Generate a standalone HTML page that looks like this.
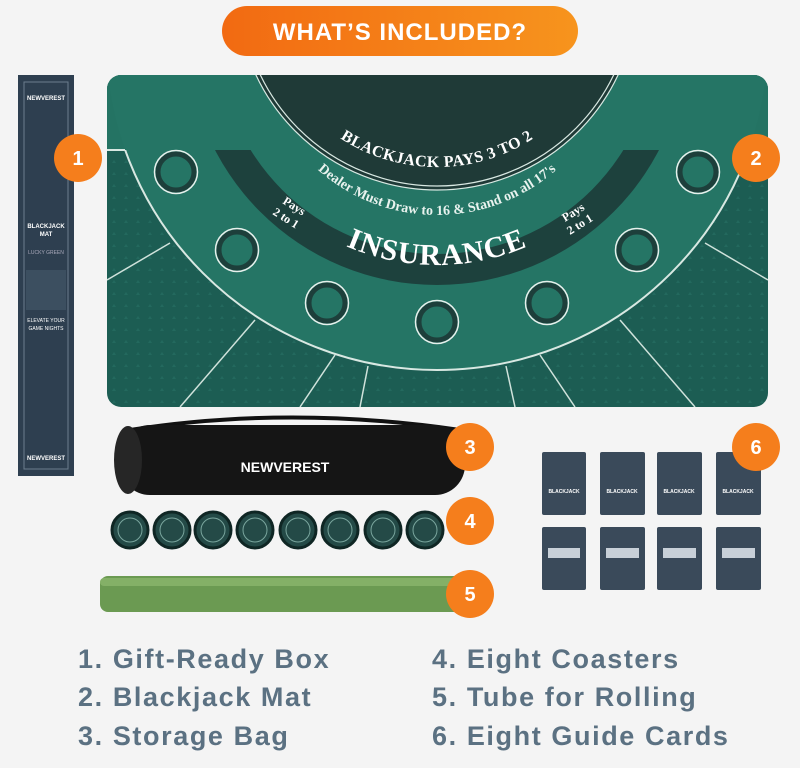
<!DOCTYPE html>
<html><head><meta charset="utf-8"><style>
html,body{margin:0;padding:0;background:#f4f4f4;}
svg{display:block}
</style></head><body>
<svg width="800" height="768" viewBox="0 0 800 768" xmlns="http://www.w3.org/2000/svg" font-family="Liberation Sans, sans-serif">
<defs>
<linearGradient id="pill" x1="0" x2="1"><stop offset="0" stop-color="#f26a12"/><stop offset="1" stop-color="#f7941d"/></linearGradient>
<pattern id="dots" width="12" height="12" patternUnits="userSpaceOnUse"><rect width="12" height="12" fill="#1c5d53"/><path d="M6 4 L8 7 L4 7 Z" fill="#23695e"/></pattern>
<clipPath id="mc"><rect x="107" y="75" width="661" height="332" rx="14"/></clipPath>
<clipPath id="below"><rect x="0" y="150" width="800" height="400"/></clipPath>
<path id="arc1" d="M 260 -10 A 177 177 0 0 0 614 -10"/>
<path id="arc2" d="M 257 35 A 180 180 0 0 0 617 35"/>
<path id="arc3" d="M 207 35 A 230 230 0 0 0 667 35"/>
</defs>
<rect width="800" height="768" fill="#f4f4f4"/>
<rect x="222" y="6" width="356" height="50" rx="25" fill="url(#pill)"/>
<text x="400" y="40" text-anchor="middle" fill="#fff" font-size="24" font-weight="bold" letter-spacing="1">WHAT’S INCLUDED?</text>
<!-- box -->
<rect x="18" y="75" width="56" height="401" fill="#2e3f50"/>
<rect x="24" y="82" width="44" height="387" fill="none" stroke="#6c7e8e" stroke-width="1"/>
<text x="46" y="100" text-anchor="middle" fill="#fff" font-size="6" font-weight="bold">NEWVEREST</text>
<text x="46" y="228" text-anchor="middle" fill="#fff" font-size="6" font-weight="bold">BLACKJACK</text>
<text x="46" y="236" text-anchor="middle" fill="#fff" font-size="6" font-weight="bold">MAT</text>
<text x="46" y="254" text-anchor="middle" fill="#aab" font-size="5">LUCKY GREEN</text>
<rect x="26" y="270" width="40" height="40" fill="#3c4f60"/>
<text x="46" y="322" text-anchor="middle" fill="#fff" font-size="5">ELEVATE YOUR</text>
<text x="46" y="330" text-anchor="middle" fill="#fff" font-size="5">GAME NIGHTS</text>
<text x="46" y="460" text-anchor="middle" fill="#fff" font-size="6" font-weight="bold">NEWVEREST</text>
<!-- mat -->
<g clip-path="url(#mc)">
<rect x="107" y="75" width="661" height="332" fill="url(#dots)"/>
<rect x="107" y="75" width="661" height="75" fill="#247363"/>
<circle cx="437" cy="39" r="331" fill="#257565"/>
<g clip-path="url(#below)" fill="none" stroke="#d8e8e2" stroke-width="2">
<circle cx="437" cy="39" r="331"/>
</g>
<line x1="107" y1="150" x2="125" y2="150" stroke="#d8e8e2" stroke-width="2"/>
<line x1="749" y1="150" x2="768" y2="150" stroke="#d8e8e2" stroke-width="2"/>
<g clip-path="url(#below)">
<circle cx="437" cy="35" r="250" fill="#1d413d"/>
<circle cx="437" cy="35" r="219" fill="#257565"/>
</g>
<circle cx="437" cy="-10" r="200" fill="#1f3a37"/>
<circle cx="437" cy="-10" r="196" fill="none" stroke="#d8e8e2" stroke-width="1.2"/>
<circle cx="437" cy="-10" r="200" fill="none" stroke="#d8e8e2" stroke-width="1.2"/>
<g stroke="#cfe2db" stroke-width="1.5">
<line x1="180" y1="407" x2="255" y2="320"/><line x1="300" y1="407" x2="335" y2="355"/><line x1="360" y1="407" x2="368" y2="366"/>
<line x1="515" y1="407" x2="506" y2="366"/><line x1="575" y1="407" x2="540" y2="355"/><line x1="695" y1="407" x2="620" y2="320"/>
<line x1="107" y1="280" x2="170" y2="243"/><line x1="768" y1="280" x2="705" y2="243"/>
</g>
<g fill="#257565" stroke="#1d3f3b" stroke-width="5">
<circle cx="176" cy="172" r="18"/><circle cx="237" cy="250" r="18"/><circle cx="327" cy="303" r="18"/><circle cx="437" cy="322" r="18"/><circle cx="547" cy="303" r="18"/><circle cx="637" cy="250" r="18"/><circle cx="698" cy="172" r="18"/>
</g>
<g fill="none" stroke="#e6f0ec" stroke-width="1.5">
<circle cx="176" cy="172" r="21.5"/><circle cx="237" cy="250" r="21.5"/><circle cx="327" cy="303" r="21.5"/><circle cx="437" cy="322" r="21.5"/><circle cx="547" cy="303" r="21.5"/><circle cx="637" cy="250" r="21.5"/><circle cx="698" cy="172" r="21.5"/>
</g>
<text fill="#fff" font-family="Liberation Serif, serif" font-size="16" font-weight="bold" letter-spacing="0.5"><textPath href="#arc1" startOffset="50%" text-anchor="middle">BLACKJACK PAYS 3 TO 2</textPath></text>
<text fill="#e8f2ee" font-family="Liberation Serif, serif" font-size="14" font-weight="bold"><textPath href="#arc2" startOffset="50%" text-anchor="middle">Dealer Must Draw to 16 &amp; Stand on all 17's</textPath></text>
<text fill="#fff" font-family="Liberation Serif, serif" font-size="30" font-weight="bold" letter-spacing="1"><textPath href="#arc3" startOffset="50%" text-anchor="middle">INSURANCE</textPath></text>
<text x="282" y="203" fill="#fff" font-family="Liberation Serif, serif" font-size="12" font-weight="bold" transform="rotate(32 282 203)">Pays</text>
<text x="272" y="214" fill="#fff" font-family="Liberation Serif, serif" font-size="12" font-weight="bold" transform="rotate(32 272 214)">2 to 1</text>
<text x="565" y="222" fill="#fff" font-family="Liberation Serif, serif" font-size="12" font-weight="bold" transform="rotate(-32 565 222)">Pays</text>
<text x="570" y="235" fill="#fff" font-family="Liberation Serif, serif" font-size="12" font-weight="bold" transform="rotate(-32 570 235)">2 to 1</text>
</g>
<!-- bag -->
<path d="M 130 430 Q 290 405 460 430" fill="none" stroke="#111" stroke-width="4"/>
<rect x="120" y="425" width="345" height="70" rx="30" fill="#151515"/>
<ellipse cx="128" cy="460" rx="14" ry="34" fill="#262626"/>
<text x="285" y="472" text-anchor="middle" fill="#fff" font-size="14" font-weight="bold">NEWVEREST</text>
<!-- coasters -->
<g fill="#244a47" stroke="#0f2624" stroke-width="3">
<circle cx="130" cy="530" r="18"/><circle cx="172" cy="530" r="18"/><circle cx="213" cy="530" r="18"/><circle cx="255" cy="530" r="18"/><circle cx="298" cy="530" r="18"/><circle cx="340" cy="530" r="18"/><circle cx="383" cy="530" r="18"/><circle cx="425" cy="530" r="18"/>
</g>
<g fill="none" stroke="#7aa69e" stroke-width="1">
<circle cx="130" cy="530" r="12"/><circle cx="172" cy="530" r="12"/><circle cx="213" cy="530" r="12"/><circle cx="255" cy="530" r="12"/><circle cx="298" cy="530" r="12"/><circle cx="340" cy="530" r="12"/><circle cx="383" cy="530" r="12"/><circle cx="425" cy="530" r="12"/>
</g>
<!-- tube -->
<rect x="100" y="576" width="372" height="36" rx="8" fill="#6b9a52"/>
<rect x="100" y="578" width="372" height="8" rx="4" fill="#84b067"/>
<!-- cards -->
<g fill="#3a4a5a">
<rect x="542" y="452" width="44" height="63" rx="2"/><rect x="600" y="452" width="45" height="63" rx="2"/><rect x="657" y="452" width="45" height="63" rx="2"/><rect x="716" y="452" width="45" height="63" rx="2"/>
<rect x="542" y="527" width="44" height="63" rx="2"/><rect x="600" y="527" width="45" height="63" rx="2"/><rect x="657" y="527" width="45" height="63" rx="2"/><rect x="716" y="527" width="45" height="63" rx="2"/>
</g>
<g fill="#fff" font-size="5" font-weight="bold" text-anchor="middle">
<text x="564" y="493">BLACKJACK</text><text x="622" y="493">BLACKJACK</text><text x="679" y="493">BLACKJACK</text><text x="738" y="493">BLACKJACK</text>
</g>
<g fill="#c8d0d8">
<rect x="548" y="548" width="32" height="10"/><rect x="606" y="548" width="33" height="10"/><rect x="663" y="548" width="33" height="10"/><rect x="722" y="548" width="33" height="10"/>
</g>
<!-- number badges -->
<g fill="#f57e1c">
<circle cx="78" cy="158" r="24"/><circle cx="756" cy="158" r="24"/><circle cx="470" cy="447" r="24"/><circle cx="470" cy="521" r="24"/><circle cx="470" cy="594" r="24"/><circle cx="756" cy="447" r="24"/>
</g>
<g fill="#fff" font-size="20" font-weight="bold" text-anchor="middle">
<text x="78" y="165">1</text><text x="756" y="165">2</text><text x="470" y="454">3</text><text x="470" y="528">4</text><text x="470" y="601">5</text><text x="756" y="454">6</text>
</g>
<!-- list -->
<g fill="#5b7182" font-size="27" font-weight="bold" letter-spacing="1.6">
<text x="78" y="668">1.  Gift-Ready Box</text>
<text x="78" y="706">2.  Blackjack Mat</text>
<text x="78" y="745">3.  Storage Bag</text>
<text x="432" y="668">4.  Eight Coasters</text>
<text x="432" y="706">5.  Tube for Rolling</text>
<text x="432" y="745">6.  Eight Guide Cards</text>
</g>
</svg>
</body></html>
